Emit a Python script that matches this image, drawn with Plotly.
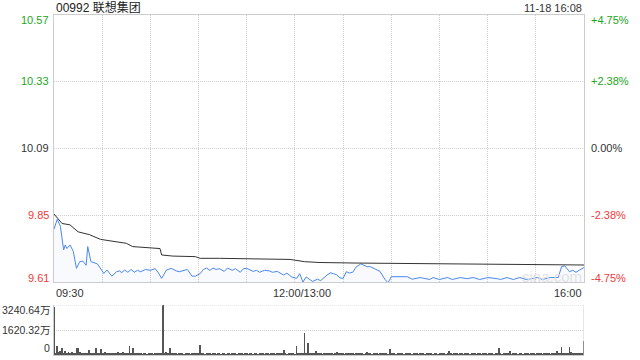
import plotly.graph_objects as go

# ---------------- data ----------------
title_text = "00992 联想集团"
stamp_text = "11-18 16:08"

price_ticks = [9.61, 9.85, 10.09, 10.33, 10.57]
price_tick_labels = ["9.61", "9.85", "10.09", "10.33", "10.57"]
pct_tick_labels = ["-4.75%", "-2.38%", "0.00%", "+2.38%", "+4.75%"]
tick_colors = ["#f03a3a", "#f03a3a", "#333333", "#22a622", "#22a622"]

vol_ticks = [0, 1620.32, 3240.64]
vol_tick_labels = ["0", "1620.32万", "3240.64万"]

time_ticks = [0, 150, 330]
time_labels = ["09:30", "12:00/13:00", "16:00"]

# minute index since 09:30 (12:00-13:00 lunch removed)
price_min = [0, 2, 4, 5, 6, 7, 8, 10, 12, 14, 15, 16, 18, 20, 21, 23, 27, 29, 31, 33,
             36, 39, 41, 42, 44, 46, 48, 50, 52, 54, 57, 60, 63, 65, 67, 70, 73, 76, 78, 83,
             86, 88, 91, 93, 95, 97, 99, 101, 103, 106, 108, 111, 113, 116, 118, 120, 122, 124, 126, 128,
             131, 134, 136, 139, 143, 145, 148, 151, 153, 155, 157, 159, 161, 164, 166, 170, 172, 174, 176, 178,
             180, 182, 184, 186, 188, 191, 193, 195, 197, 199, 203, 206, 208, 210, 215, 220, 223, 228, 234, 236,
             240, 245, 248, 253, 257, 261, 265, 270, 276, 278, 282, 286, 290, 294, 296, 301, 304, 309, 314, 316,
             318, 319, 321, 323, 325, 327, 330]
price_val = [9.800, 9.835, 9.810, 9.760, 9.725, 9.743, 9.730, 9.743, 9.720, 9.659, 9.670, 9.683, 9.685, 9.670, 9.737, 9.683, 9.675, 9.659, 9.641, 9.653,
             9.631, 9.647, 9.650, 9.643, 9.653, 9.645, 9.655, 9.645, 9.652, 9.647, 9.655, 9.652, 9.658, 9.643, 9.623, 9.653, 9.659, 9.650, 9.647, 9.655,
             9.631, 9.631, 9.640, 9.655, 9.660, 9.652, 9.660, 9.655, 9.658, 9.648, 9.660, 9.652, 9.658, 9.645, 9.658, 9.659, 9.652, 9.648, 9.652, 9.645,
             9.652, 9.650, 9.645, 9.648, 9.635, 9.642, 9.628, 9.623, 9.640, 9.610, 9.628, 9.620, 9.612, 9.620, 9.615, 9.635, 9.643, 9.640, 9.636, 9.625,
             9.623, 9.647, 9.642, 9.645, 9.663, 9.675, 9.670, 9.665, 9.665, 9.660, 9.648, 9.620, 9.607, 9.629, 9.629, 9.629, 9.620, 9.626, 9.619, 9.626,
             9.619, 9.626, 9.619, 9.626, 9.622, 9.626, 9.619, 9.626, 9.622, 9.619, 9.626, 9.619, 9.626, 9.619, 9.620, 9.626, 9.619, 9.626, 9.626, 9.665,
             9.668, 9.660, 9.647, 9.652, 9.645, 9.652, 9.662]

avg_min = [0, 2, 5, 10, 15, 22, 29, 38, 45, 49, 66, 67, 74, 88, 91, 103, 147, 156, 165, 188, 207, 228, 280, 330]
avg_val = [9.854, 9.839, 9.820, 9.815, 9.790, 9.780, 9.763, 9.755, 9.749, 9.737, 9.730, 9.707, 9.703, 9.701, 9.695, 9.695, 9.691, 9.683, 9.680, 9.678, 9.677, 9.677, 9.675, 9.671]

vol_min = list(range(331))
vol_val = ([3090, 150, 583, 200, 260, 432, 150, 260, 130, 200] +
           [120, 200, 100, 150, 432, 432, 200, 130, 100, 90] +
           [120, 150, 324, 130, 150, 100, 432, 120, 150, 370] +
           [100, 130, 200, 120, 100, 90, 80, 100, 130, 80] +
           [200, 100, 90, 200, 100, 80, 120, 583, 100, 432] +
           [130, 150, 90, 70, 80, 60, 90, 70, 60, 80] +
           [100, 70, 60, 110, 90, 130, 150, 120, 3240, 100] +
           [200, 130, 432, 120, 90, 70, 100, 60, 80, 90] +
           [70, 60, 90, 100, 70, 60, 80, 90, 70, 110] +
           [80, 648, 90, 70, 60, 80, 100, 70, 60, 80] +
           [90, 60, 70, 80, 60, 90, 70, 60, 80, 70] +
           [60, 90, 80, 70, 60, 100, 70, 80, 60, 90] +
           [70, 60, 80, 90, 60, 70, 100, 60, 80, 70] +
           [90, 60, 70, 80, 60, 90, 70, 80, 60, 100] +
           [70, 80, 90, 324, 70, 60, 80, 90, 70, 130] +
           [60, 583, 100, 90, 80, 70, 1447, 120, 799, 100] +
           [90, 80, 70, 250, 90, 80, 70, 60, 100, 80] +
           [70, 130, 90, 70, 60, 80, 180, 100, 70, 80] +
           [90, 60, 70, 150, 90, 80, 70, 60, 130, 100] +
           [80, 70, 90, 60, 80, 170, 100, 70, 60, 90] +
           [80, 70, 60, 120, 90, 80, 70, 100, 60, 367] +
           [90, 80, 70, 60, 90, 130, 80, 70, 60, 100] +
           [90, 80, 70, 60, 90, 70, 80, 60, 100, 70] +
           [90, 60, 80, 70, 150, 90, 60, 80, 70, 60] +
           [100, 80, 70, 90, 60, 80, 250, 70, 60, 90] +
           [80, 70, 60, 80, 90, 60, 70, 100, 80, 60] +
           [90, 70, 80, 60, 90, 70, 60, 80, 100, 70] +
           [60, 90, 80, 70, 60, 80, 90, 475, 70, 60] +
           [80, 70, 90, 80, 250, 60, 70, 90, 80, 60] +
           [70, 80, 60, 90, 70, 80, 60, 100, 70, 80] +
           [60, 90, 70, 80, 60, 100, 70, 90, 80, 60] +
           [70, 80, 90, 250, 80, 70, 540, 100, 150, 90] +
           [100, 540, 200, 90, 120, 80, 100, 70, 90, 80, 929])

# ---------------- figure ----------------
FONT = "Liberation Sans, Arial, Noto Sans CJK SC, sans-serif"
W, H = 640, 360
main_dom = [1 - 282 / H, 1 - 14.5 / H]
vol_dom = [1 - 355 / H, 1 - 305 / H]

fig = go.Figure()
fig.add_trace(go.Scatter(x=price_min, y=price_val, mode="lines",
                         line=dict(color="#4a88ee", width=1),
                         fill="tozeroy", fillcolor="rgba(74,136,238,0.04)",
                         xaxis="x", yaxis="y", hoverinfo="skip"))
fig.add_trace(go.Scatter(x=avg_min, y=avg_val, mode="lines",
                         line=dict(color="#333333", width=1),
                         xaxis="x", yaxis="y", hoverinfo="skip"))
fig.add_trace(go.Bar(x=vol_min, y=vol_val, width=0.55,
                     marker=dict(color="#555555", line=dict(width=0)),
                     xaxis="x2", yaxis="y2", hoverinfo="skip"))

GRIDC = "#cfcfcf"
GDASH = "1px,1px"
grid = dict(gridcolor=GRIDC, griddash=GDASH, gridwidth=1)
fig.update_layout(
    width=W, height=H, showlegend=False,
    margin=dict(l=54, r=56, t=0, b=0),
    paper_bgcolor="white", plot_bgcolor="white",
    font=dict(family=FONT, size=11, color="#333333"),
    bargap=0,
    xaxis=dict(domain=[0, 1], range=[0, 330], tickvals=list(range(30, 330, 30)),
               showticklabels=False, ticks="", showline=True, mirror=True,
               linecolor="#cccccc", zeroline=False, anchor="y", **grid),
    yaxis=dict(domain=main_dom, range=[price_ticks[0], price_ticks[-1]],
               tickvals=price_ticks[1:-1], showticklabels=False, ticks="",
               showline=True, mirror=True, linecolor="#cccccc", zeroline=False,
               anchor="x", **grid),
    xaxis2=dict(domain=[0, 1], range=[0, 330], showgrid=False, showticklabels=False,
                ticks="", showline=True, linecolor="#cccccc", zeroline=False, anchor="y2"),
    yaxis2=dict(domain=vol_dom, range=[0, vol_ticks[-1]], tickvals=vol_ticks[1:],
                showticklabels=False, ticks="", showline=True, mirror=False,
                linecolor="#cccccc", zeroline=False, anchor="x2", **grid),
)

# right border of volume panel
fig.add_shape(type="line", xref="x2", yref="y2", x0=330, x1=330, y0=0, y1=vol_ticks[-1],
              line=dict(color="#cccccc", width=1))
# top dotted line of volume panel
fig.add_shape(type="line", xref="x2", yref="y2", x0=0, x1=330, y0=vol_ticks[-1], y1=vol_ticks[-1],
              line=dict(color=GRIDC, width=1, dash=GDASH))

ann = []
n = len(price_ticks)
for i, (v, lab, pl, c) in enumerate(zip(price_ticks, price_tick_labels, pct_tick_labels, tick_colors)):
    ys = -5.5 if i == n - 1 else (4.5 if i == 0 else 0)
    ann.append(dict(xref="paper", yref="y", x=0, y=v, text=lab, showarrow=False,
                    xanchor="right", yanchor="middle", xshift=-3, yshift=ys,
                    font=dict(size=11, color=c)))
    ann.append(dict(xref="paper", yref="y", x=1, y=v, text=pl, showarrow=False,
                    xanchor="left", yanchor="middle", xshift=5, yshift=ys,
                    font=dict(size=11, color=c)))
for i, (v, lab) in enumerate(zip(vol_ticks, vol_tick_labels)):
    ys = -5 if i == len(vol_ticks) - 1 else (7 if i == 0 else 0)
    ann.append(dict(xref="paper", yref="y2", x=0, y=v, text=lab, showarrow=False,
                    xanchor="right", yanchor="middle", xshift=-2, yshift=ys,
                    font=dict(size=10.5, color="#333333")))
anchors = ["left", "center", "right"]
shifts = [0, 7, 0]
for t, lab, a, s in zip(time_ticks, time_labels, anchors, shifts):
    ann.append(dict(xref="x", yref="paper", x=t, y=1 - 293 / H, text=lab, showarrow=False,
                    xanchor=a, yanchor="middle", xshift=s,
                    font=dict(size=11, color="#333333")))
ann.append(dict(xref="paper", yref="paper", x=0, y=1 - 7.5 / H, text=title_text,
                showarrow=False, xanchor="left", yanchor="middle",
                font=dict(size=12, color="#222222")))
ann.append(dict(xref="paper", yref="paper", x=1, y=1 - 7.5 / H, text=stamp_text,
                showarrow=False, xanchor="right", yanchor="middle",
                font=dict(size=11, color="#333333")))
ann.append(dict(xref="paper", yref="paper", x=(552 - 54) / 530, y=1 - 276 / H, text="sina.com",
                showarrow=False, xanchor="center", yanchor="middle",
                font=dict(size=15, color="#e2e2e2")))
fig.update_layout(annotations=ann)

fig.write_html("out.html")
